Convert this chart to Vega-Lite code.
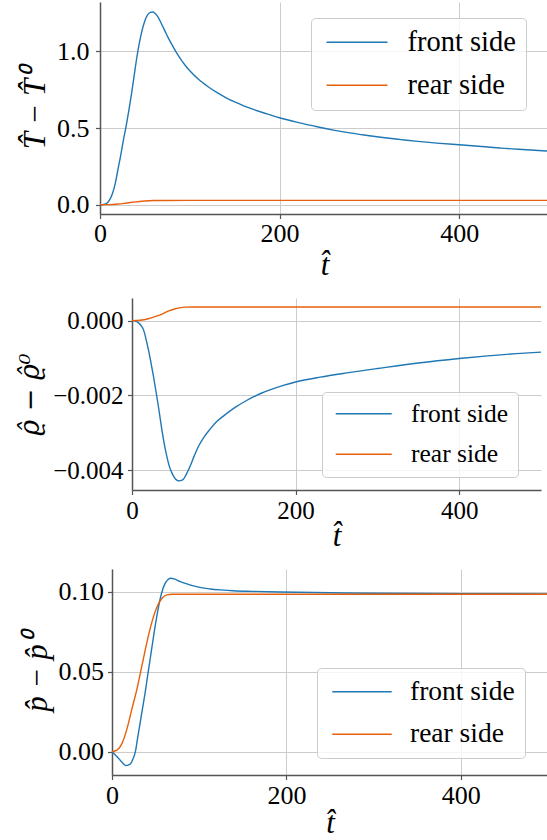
{
  "$schema": "https://vega.github.io/schema/vega-lite/v6.json",
  "padding": {"left": 0, "top": 2, "right": 0, "bottom": 0},
  "spacing": 18,
  "config": {
    "view": {"stroke": null},
    "font": "Times New Roman",
    "axis": {
      "labelFont": "Times New Roman", "labelColor": "#000", "labelFontSize": 26,
      "titleFont": "Times New Roman", "titleFontStyle": "italic", "titleFontWeight": "normal",
      "titleColor": "#000", "titleFontSize": 31,
      "domainColor": "#555", "domainWidth": 1.5,
      "tickColor": "#555", "tickSize": 4.5, "tickWidth": 1.2,
      "gridColor": "#cccccc", "gridWidth": 1,
      "labelFlush": false, "labelOverlap": false
    },
    "legend": {
      "labelFont": "Times New Roman", "labelColor": "#000",
      "symbolStrokeWidth": 1.5, "symbolType": "M-1,0H6",
      "fillColor": "rgba(255,255,255,0.8)", "strokeColor": "#cccccc",
      "cornerRadius": 4, "orient": "none"
    }
  },
  "datasets": {
    "p1": [
      {"t":0,"v":0,"series":"front side"},{"t":4,"v":0.002,"series":"front side"},{"t":8,"v":0.012,"series":"front side"},{"t":11,"v":0.035,"series":"front side"},{"t":14,"v":0.075,"series":"front side"},{"t":17,"v":0.14,"series":"front side"},{"t":20,"v":0.23,"series":"front side"},{"t":23,"v":0.32,"series":"front side"},{"t":26,"v":0.42,"series":"front side"},{"t":29,"v":0.51,"series":"front side"},{"t":32,"v":0.61,"series":"front side"},{"t":35,"v":0.72,"series":"front side"},{"t":38,"v":0.84,"series":"front side"},{"t":41,"v":0.96,"series":"front side"},{"t":44,"v":1.06,"series":"front side"},{"t":47,"v":1.14,"series":"front side"},{"t":50,"v":1.2,"series":"front side"},{"t":53,"v":1.237,"series":"front side"},{"t":56,"v":1.254,"series":"front side"},{"t":59,"v":1.256,"series":"front side"},{"t":62,"v":1.243,"series":"front side"},{"t":65,"v":1.22,"series":"front side"},{"t":68,"v":1.185,"series":"front side"},{"t":72,"v":1.137,"series":"front side"},{"t":76,"v":1.088,"series":"front side"},{"t":80,"v":1.045,"series":"front side"},{"t":85,"v":0.993,"series":"front side"},{"t":90,"v":0.948,"series":"front side"},{"t":95,"v":0.908,"series":"front side"},{"t":100,"v":0.873,"series":"front side"},{"t":110,"v":0.816,"series":"front side"},{"t":120,"v":0.771,"series":"front side"},{"t":130,"v":0.732,"series":"front side"},{"t":140,"v":0.699,"series":"front side"},{"t":150,"v":0.67,"series":"front side"},{"t":160,"v":0.645,"series":"front side"},{"t":170,"v":0.623,"series":"front side"},{"t":185,"v":0.594,"series":"front side"},{"t":200,"v":0.567,"series":"front side"},{"t":220,"v":0.537,"series":"front side"},{"t":243,"v":0.507,"series":"front side"},{"t":260,"v":0.487,"series":"front side"},{"t":280,"v":0.467,"series":"front side"},{"t":300,"v":0.45,"series":"front side"},{"t":317,"v":0.437,"series":"front side"},{"t":335,"v":0.425,"series":"front side"},{"t":354,"v":0.413,"series":"front side"},{"t":375,"v":0.402,"series":"front side"},{"t":400,"v":0.391,"series":"front side"},{"t":425,"v":0.38,"series":"front side"},{"t":447,"v":0.369,"series":"front side"},{"t":475,"v":0.359,"series":"front side"},{"t":500,"v":0.35,"series":"front side"},
      {"t":0,"v":0,"series":"rear side"},{"t":10,"v":0.001,"series":"rear side"},{"t":20,"v":0.005,"series":"rear side"},{"t":30,"v":0.012,"series":"rear side"},{"t":40,"v":0.019,"series":"rear side"},{"t":50,"v":0.025,"series":"rear side"},{"t":60,"v":0.0278,"series":"rear side"},{"t":70,"v":0.0283,"series":"rear side"},{"t":100,"v":0.0285,"series":"rear side"},{"t":200,"v":0.0285,"series":"rear side"},{"t":300,"v":0.0285,"series":"rear side"},{"t":400,"v":0.0285,"series":"rear side"},{"t":500,"v":0.0285,"series":"rear side"}
    ],
    "p2": [
      {"t":0,"v":0,"series":"front side"},{"t":5,"v":-0.00002,"series":"front side"},{"t":8,"v":-0.00006,"series":"front side"},{"t":11,"v":-0.00013,"series":"front side"},{"t":14,"v":-0.00024,"series":"front side"},{"t":17,"v":-0.00048,"series":"front side"},{"t":20,"v":-0.00077,"series":"front side"},{"t":23,"v":-0.0011,"series":"front side"},{"t":26.2,"v":-0.00148,"series":"front side"},{"t":30.3,"v":-0.00202,"series":"front side"},{"t":33,"v":-0.0024,"series":"front side"},{"t":36.4,"v":-0.0029,"series":"front side"},{"t":39.5,"v":-0.0033,"series":"front side"},{"t":42.5,"v":-0.00362,"series":"front side"},{"t":45.5,"v":-0.00388,"series":"front side"},{"t":48.6,"v":-0.00406,"series":"front side"},{"t":51.5,"v":-0.00418,"series":"front side"},{"t":54.7,"v":-0.00426,"series":"front side"},{"t":57.9,"v":-0.00428,"series":"front side"},{"t":60.5,"v":-0.00427,"series":"front side"},{"t":62.8,"v":-0.00424,"series":"front side"},{"t":66,"v":-0.00412,"series":"front side"},{"t":71,"v":-0.00389,"series":"front side"},{"t":76,"v":-0.00362,"series":"front side"},{"t":81,"v":-0.00337,"series":"front side"},{"t":88,"v":-0.00311,"series":"front side"},{"t":95.4,"v":-0.0029,"series":"front side"},{"t":103,"v":-0.00271,"series":"front side"},{"t":111.7,"v":-0.00255,"series":"front side"},{"t":120,"v":-0.00241,"series":"front side"},{"t":128,"v":-0.00229,"series":"front side"},{"t":138,"v":-0.00216,"series":"front side"},{"t":148.3,"v":-0.00204,"series":"front side"},{"t":158,"v":-0.00194,"series":"front side"},{"t":168.7,"v":-0.00185,"series":"front side"},{"t":185,"v":-0.00173,"series":"front side"},{"t":200,"v":-0.00164,"series":"front side"},{"t":230,"v":-0.00151,"series":"front side"},{"t":265,"v":-0.00139,"series":"front side"},{"t":300,"v":-0.00128,"series":"front side"},{"t":350,"v":-0.00113,"series":"front side"},{"t":400,"v":-0.00101,"series":"front side"},{"t":435,"v":-0.00094,"series":"front side"},{"t":470,"v":-0.00088,"series":"front side"},{"t":500,"v":-0.00084,"series":"front side"},
      {"t":0,"v":0,"series":"rear side"},{"t":10,"v":0.00001,"series":"rear side"},{"t":20,"v":0.00005,"series":"rear side"},{"t":30,"v":0.00012,"series":"rear side"},{"t":38,"v":0.00019,"series":"rear side"},{"t":45,"v":0.00026,"series":"rear side"},{"t":52,"v":0.00031,"series":"rear side"},{"t":58,"v":0.00034,"series":"rear side"},{"t":65,"v":0.00036,"series":"rear side"},{"t":75,"v":0.000365,"series":"rear side"},{"t":100,"v":0.000365,"series":"rear side"},{"t":200,"v":0.000365,"series":"rear side"},{"t":300,"v":0.000365,"series":"rear side"},{"t":400,"v":0.000365,"series":"rear side"},{"t":500,"v":0.000365,"series":"rear side"}
    ],
    "p3": [
      {"t":0,"v":0,"series":"front side"},{"t":5.8,"v":-0.0031,"series":"front side"},{"t":11.5,"v":-0.0066,"series":"front side"},{"t":16,"v":-0.0087,"series":"front side"},{"t":19,"v":-0.0083,"series":"front side"},{"t":21.8,"v":-0.0071,"series":"front side"},{"t":24.5,"v":-0.004,"series":"front side"},{"t":26.8,"v":0,"series":"front side"},{"t":29.5,"v":0.009,"series":"front side"},{"t":32.5,"v":0.0188,"series":"front side"},{"t":35.3,"v":0.028,"series":"front side"},{"t":38.2,"v":0.0375,"series":"front side"},{"t":41,"v":0.048,"series":"front side"},{"t":43.9,"v":0.0584,"series":"front side"},{"t":46.8,"v":0.069,"series":"front side"},{"t":49.7,"v":0.0792,"series":"front side"},{"t":52.5,"v":0.088,"series":"front side"},{"t":55.4,"v":0.0959,"series":"front side"},{"t":58.2,"v":0.1015,"series":"front side"},{"t":61.1,"v":0.1053,"series":"front side"},{"t":64.3,"v":0.1076,"series":"front side"},{"t":67.6,"v":0.1084,"series":"front side"},{"t":72,"v":0.1078,"series":"front side"},{"t":78.3,"v":0.1063,"series":"front side"},{"t":85,"v":0.105,"series":"front side"},{"t":93.5,"v":0.1036,"series":"front side"},{"t":102,"v":0.1025,"series":"front side"},{"t":112.6,"v":0.1017,"series":"front side"},{"t":125,"v":0.1011,"series":"front side"},{"t":139.2,"v":0.1006,"series":"front side"},{"t":160,"v":0.1002,"series":"front side"},{"t":192.7,"v":0.0998,"series":"front side"},{"t":250,"v":0.0993,"series":"front side"},{"t":300,"v":0.099,"series":"front side"},{"t":400,"v":0.0988,"series":"front side"},{"t":500,"v":0.0986,"series":"front side"},
      {"t":0,"v":0,"series":"rear side"},{"t":5.8,"v":0.001,"series":"rear side"},{"t":11.5,"v":0.0052,"series":"rear side"},{"t":17.3,"v":0.0146,"series":"rear side"},{"t":23,"v":0.0271,"series":"rear side"},{"t":28.8,"v":0.0396,"series":"rear side"},{"t":34.5,"v":0.0542,"series":"rear side"},{"t":40.2,"v":0.0688,"series":"rear side"},{"t":45.9,"v":0.0813,"series":"rear side"},{"t":51.7,"v":0.0906,"series":"rear side"},{"t":57.4,"v":0.0959,"series":"rear side"},{"t":63.1,"v":0.098,"series":"rear side"},{"t":68.8,"v":0.0984,"series":"rear side"},{"t":80,"v":0.0984,"series":"rear side"},{"t":200,"v":0.0984,"series":"rear side"},{"t":300,"v":0.0984,"series":"rear side"},{"t":400,"v":0.0984,"series":"rear side"},{"t":500,"v":0.0984,"series":"rear side"}
    ]
  },
  "resolve": {"scale": {"color": "independent"}, "legend": {"color": "independent"}},
  "vconcat": [
    {
      "spacing": 0,
      "resolve": {"scale": {"color": "independent"}, "legend": {"color": "independent"}},
      "hconcat": [
        {"width": 19, "height": 10, "data": {"values": []}, "mark": "point"},
        {
          "width": 449, "height": 212,
          "data": {"name": "p1"},
          "mark": {"type": "line", "strokeWidth": 1.4, "interpolate": "monotone"},
          "encoding": {
            "x": {"field": "t", "type": "quantitative", "scale": {"domain": [0, 500], "nice": false, "zero": false},
                  "axis": {"values": [0, 200, 400], "format": "d", "title": "t̂", "labelPadding": 2, "titlePadding": 3.5}},
            "y": {"field": "v", "type": "quantitative", "scale": {"domain": [-0.06, 1.3216], "nice": false, "zero": false},
                  "axis": {"values": [0, 0.5, 1.0], "format": ".1f", "title": "T̂ − T̂⁰", "labelPadding": 6.6, "titlePadding": 4.5}},
            "color": {"field": "series", "type": "nominal",
                      "scale": {"domain": ["front side", "rear side"], "range": ["#1f77b4", "#e6600d"]},
                      "legend": {"title": null, "legendX": 211, "legendY": 16, "padding": 10, "rowPadding": 14,
                                 "labelFontSize": 28.5, "symbolSize": 303, "labelOffset": 58}}
          }
        }
      ]
    },
    {
      "spacing": 0,
      "resolve": {"scale": {"color": "independent"}, "legend": {"color": "independent"}},
      "hconcat": [
        {"width": 16, "height": 10, "data": {"values": []}, "mark": "point"},
        {
          "width": 409, "height": 192,
          "data": {"name": "p2"},
          "mark": {"type": "line", "strokeWidth": 1.4, "interpolate": "monotone"},
          "encoding": {
            "x": {"field": "t", "type": "quantitative", "scale": {"domain": [0, 500], "nice": false, "zero": false},
                  "axis": {"values": [0, 200, 400], "format": "d", "title": "t̂", "labelPadding": 3.5, "titlePadding": -2, "labelFontSize": 25}},
            "y": {"field": "v", "type": "quantitative", "scale": {"domain": [-0.004525, 0.000605], "nice": false, "zero": false},
                  "axis": {"values": [-0.004, -0.002, 0], "format": ".3f", "title": "ϱ̂ − ϱ̂⁰", "labelPadding": 4.5, "titlePadding": 8.6, "labelFontSize": 25, "titleFont": "DejaVu Serif", "titleFontSize": 27}},
            "color": {"field": "series", "type": "nominal",
                      "scale": {"domain": ["front side", "rear side"], "range": ["#1f77b4", "#e6600d"]},
                      "legend": {"title": null, "legendX": 190, "legendY": 94, "padding": 9, "rowPadding": 13.5,
                                 "labelFontSize": 25.5, "symbolSize": 256, "labelOffset": 54.5}}
          }
        }
      ]
    },
    {
      "spacing": 0,
      "resolve": {"scale": {"color": "independent"}, "legend": {"color": "independent"}},
      "hconcat": [
        {"width": 21, "height": 10, "data": {"values": []}, "mark": "point"},
        {
          "width": 436, "height": 206,
          "data": {"name": "p3"},
          "mark": {"type": "line", "strokeWidth": 1.4, "interpolate": "monotone"},
          "encoding": {
            "x": {"field": "t", "type": "quantitative", "scale": {"domain": [0, 500], "nice": false, "zero": false},
                  "axis": {"values": [0, 200, 400], "format": "d", "title": "t̂", "labelPadding": 3, "titlePadding": 0}},
            "y": {"field": "v", "type": "quantitative", "scale": {"domain": [-0.01456, 0.11417], "nice": false, "zero": false},
                  "axis": {"values": [0, 0.05, 0.1], "format": ".2f", "title": "p̂ − p̂⁰", "labelPadding": 4.1, "titlePadding": 4.75}},
            "color": {"field": "series", "type": "nominal",
                      "scale": {"domain": ["front side", "rear side"], "range": ["#1f77b4", "#e6600d"]},
                      "legend": {"title": null, "legendX": 205, "legendY": 99, "padding": 10, "rowPadding": 13.5,
                                 "labelFontSize": 27.5, "symbolSize": 289, "labelOffset": 55.5}}
          }
        }
      ]
    }
  ]
}
